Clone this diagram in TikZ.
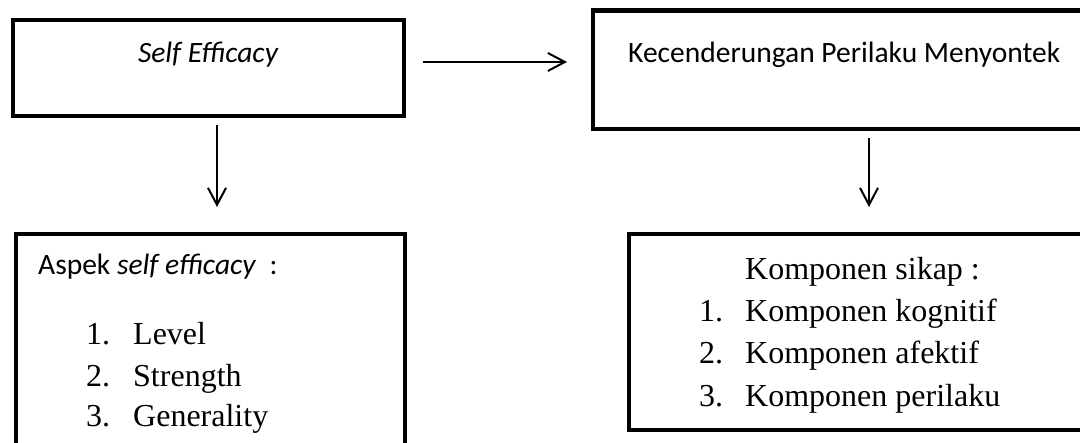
\documentclass[tikz,border=0pt]{standalone}
\usepackage{fontspec}
\setmainfont{Liberation Serif}
\newfontfamily\calfont{Carlito}
\usetikzlibrary{arrows.meta}
\tikzset{
  box/.style={draw=black, line width=4.5pt, inner sep=0pt, outer sep=0pt, anchor=north west},
  arr/.style={line width=2pt, -{Straight Barb[length=17pt,width=18pt,line width=2pt]}},
  sans/.style={font=\calfont\fontsize{29.5}{34}\selectfont, inner sep=0pt},
  serif/.style={font=\fontsize{32}{38}\selectfont, inner sep=0pt, anchor=base west},
}
\begin{document}
\begin{tikzpicture}[x=1pt,y=-1pt]
\useasboundingbox (0,0) rectangle (1080,443);
\clip (0,0) rectangle (1080,443);
\fill[white] (0,0) rectangle (1080,443);
% boxes
\node[box, minimum width=391pt, minimum height=96pt] (b1) at (13,20) {};
\node[box, minimum width=520pt, minimum height=118.5pt] (b2) at (593,10.5) {};
\node[box, minimum width=389pt, minimum height=260pt] (b3) at (16,234) {};
\node[box, minimum width=520pt, minimum height=196pt] (b4) at (629,234) {};
% texts
\node[sans, anchor=base] (t1) at (208,63) {\itshape Self Efficacy};
\node[sans, anchor=base west] (t2) at (628,63) {Kecenderungan Perilaku Menyontek};
\node[sans, anchor=base west] (t3) at (38,275) {Aspek \textit{self efficacy}\ \ :};
\node[serif] (n31) at (86,345) {1.};
\node[serif] (i31) at (133,345) {Level};
\node[serif] (n32) at (86,387) {2.};
\node[serif] (i32) at (133,387) {Strength};
\node[serif] (n33) at (86,427) {3.};
\node[serif] (i33) at (133,427) {Generality};
\node[serif] (t4) at (745,280) {Komponen sikap :};
\node[serif] (n41) at (699,322) {1.};
\node[serif] (i41) at (745,322) {Komponen kognitif};
\node[serif] (n42) at (699,364) {2.};
\node[serif] (i42) at (745,364) {Komponen afektif};
\node[serif] (n43) at (699,407) {3.};
\node[serif] (i43) at (745,407) {Komponen perilaku};
% arrows
\coordinate (h1) at (423,62);
\coordinate (h2) at (567,62);
\coordinate (v1) at (217,125);
\coordinate (v2) at (217,207);
\coordinate (w1) at (869,138);
\coordinate (w2) at (869,207);
\draw[arr] (h1) -- (h2);
\draw[arr] (v1) -- (v2);
\draw[arr] (w1) -- (w2);
\end{tikzpicture}
\end{document}
